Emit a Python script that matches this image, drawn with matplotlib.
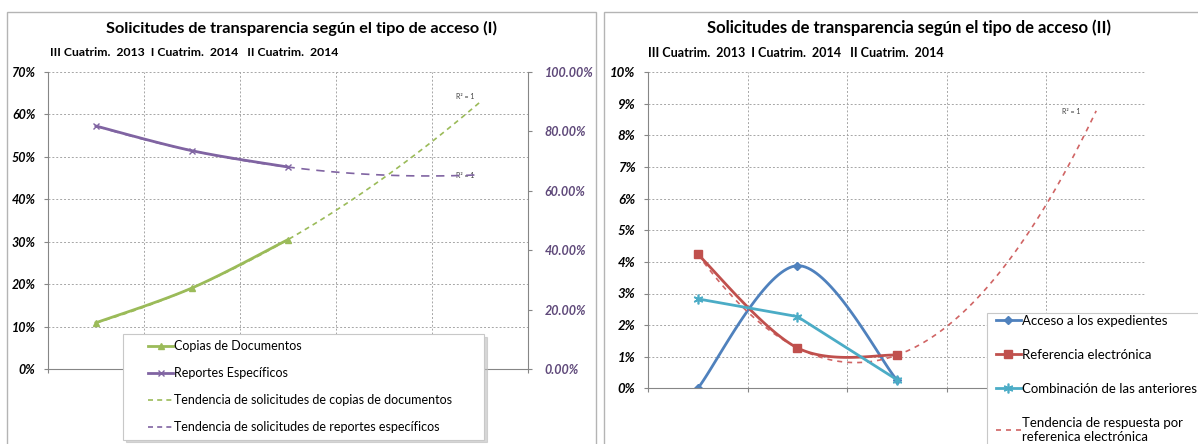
import numpy as np
import matplotlib.pyplot as plt
from matplotlib.patches import Rectangle
from matplotlib.lines import Line2D
from matplotlib.legend_handler import HandlerLine2D

plt.rcParams['font.family'] = ['Lato', 'DejaVu Sans']

W, H = 1198, 444

periodos = 'III Cuatrim.  2013  I Cuatrim.  2014   II Cuatrim.  2014'
x = [1, 2, 3]
copias = [10.9, 19.1, 30.5]
reportes = [81.8, 73.5, 68.0]          # eje secundario
expedientes = [0.0, 3.88, 0.26]
referencia = [4.24, 1.28, 1.05]
combinacion = [2.83, 2.27, 0.27]

verde, morado = '#9bbb59', '#8064a2'
azul, rojo, celeste = '#4f81bd', '#c0504d', '#4bacc6'
gris = '#868686'
grid_c = '#a6a6a6'


def fbox(x0, y0, x1, y1):
    return [x0 / W, 1 - y1 / H, (x1 - x0) / W, (y1 - y0) / H]


def suave(xs, ys, n=40):
    # linea suavizada tipo Excel (bezier)
    p = np.column_stack([xs, ys]).astype(float)
    out = []
    for i in range(len(p) - 1):
        p0, p1 = p[max(i - 1, 0)], p[i]
        p2, p3 = p[i + 1], p[min(i + 2, len(p) - 1)]
        c1 = p1 + (p2 - p0) / 6
        c2 = p2 - (p3 - p1) / 6
        t = np.linspace(0, 1, n)[:, None]
        seg = (1 - t) ** 3 * p1 + 3 * (1 - t) ** 2 * t * c1 + 3 * (1 - t) * t ** 2 * c2 + t ** 3 * p2
        out.append(seg if i == 0 else seg[1:])
    s = np.vstack(out)
    return s[:, 0], s[:, 1]


def tendencia(ys):
    c = np.polyfit(x, ys, 2)
    xt = np.linspace(1, 5, 100)
    return xt, np.polyval(c, xt)


def base(ax, ymax, step, fs):
    ax.set_xlim(0.5, 5.5)
    ax.set_ylim(0, ymax)
    ax.set_xticks(np.arange(0.5, 5.6, 1))
    ax.set_xticklabels([])
    ax.set_yticks(np.arange(0, ymax + 0.01, step))
    ax.set_yticklabels([f'{int(v)}%' for v in np.arange(0, ymax + 0.01, step)],
                       fontsize=fs, fontweight='bold', fontstyle='italic')
    ax.grid(True, ls=(0, (2, 2)), color=grid_c, lw=0.7)
    ax.set_axisbelow(True)
    for s in ['top', 'right']:
        ax.spines[s].set_visible(False)
    for s in ['left', 'bottom']:
        ax.spines[s].set_color(gris)
    ax.tick_params(length=3, color=gris, pad=5)
    ax.tick_params(axis='y', pad=6)


fig = plt.figure(figsize=(W / 100, H / 100), dpi=100)

for x0, x1 in [(7, 596), (604, 1230)]:
    fig.patches.append(Rectangle((x0 / W, -0.1), (x1 - x0) / W, 1 - 12 / H + 0.1,
                                 transform=fig.transFigure, fill=False,
                                 edgecolor='#b4b4b4', lw=1))

# ---- grafico I
axL = fig.add_axes(fbox(48, 72, 528, 369))
base(axL, 70, 10, 9)
axL2 = axL.twinx()
axL2.set_ylim(0, 100)
axL2.set_yticks(np.arange(0, 101, 20))
axL2.set_yticklabels([f'{v:.2f}%' for v in np.arange(0, 101, 20)],
                     fontsize=9, fontweight='bold', fontstyle='italic', color='#5f497a')
for s in ['top', 'left', 'bottom']:
    axL2.spines[s].set_visible(False)
axL2.spines['right'].set_color(gris)
axL2.tick_params(length=3, color=gris, pad=9)

xt, yt = tendencia(copias)
axL.plot(xt, yt, color=verde, lw=1.2, dashes=(3, 2.5))
xs, ys = suave(x, copias)
axL.plot(xs, ys, color=verde, lw=2)
axL.plot(x, copias, ls='none', color=verde, marker='^', ms=5)

xt, yt = tendencia(reportes)
axL2.plot(xt, yt, color=morado, lw=1.2, dashes=(5, 4))
xs, ys = suave(x, reportes)
axL2.plot(xs, ys, color=morado, lw=2)
axL2.plot(x, reportes, ls='none', color=morado, marker='x', ms=5, mew=1)

axL.text(4.85, 63.3, 'R² = 1', fontsize=5, ha='center', va='bottom', color='#404040')
axL.text(4.85, 45.6, 'R² = 1', fontsize=5, ha='center', va='center', color='#404040')

fig.text(302 / W, 1 - 28 / H, 'Solicitudes de transparencia según el tipo de acceso (I)',
         ha='center', va='center', fontsize=11.7, fontweight='bold')
fig.text(50 / W, 1 - 53 / H, periodos, ha='left', va='center', fontsize=8.8, fontweight='bold')

hL = [Line2D([], [], color=verde, lw=2, marker='^', ms=5),
      Line2D([], [], color=morado, lw=2, marker='x', ms=5, mew=1),
      Line2D([], [], color=verde, lw=1.2, dashes=(3, 2.5)),
      Line2D([], [], color=morado, lw=1.2, dashes=(3, 2.5))]
lgL = fig.legend(hL,
                 ['Copias de Documentos', 'Reportes Específicos',
                  'Tendencia de solicitudes de copias de documentos',
                  'Tendencia de solicitudes de reportes específicos'],
                 loc='upper left', bbox_to_anchor=fbox(123, 334, 484, 334)[:2] + [361 / W, 0],
                 mode='expand', fontsize=9, handlelength=3.5, handletextpad=0.1,
                 numpoints=1, handler_map={Line2D: HandlerLine2D(xpad=1.5)},
                 labelspacing=1.2, borderpad=0.5, borderaxespad=0, fancybox=False,
                 edgecolor='#c8c8c8', framealpha=1,
                 shadow={'color': '#bdbdbd', 'alpha': 0.6})
lgL.get_frame().set_linewidth(0.8)

# ---- grafico II
axR = fig.add_axes(fbox(648, 72.3, 1146, 388.3))
base(axR, 10, 1, 9.5)

xs, ys = suave(x, expedientes)
axR.plot(xs, ys, color=azul, lw=2)
axR.plot(x, expedientes, ls='none', color=azul, marker='D', ms=4)

xt, yt = tendencia(referencia)
axR.plot(xt, yt, color='#d06464', lw=1.2, dashes=(3, 3))
xs, ys = suave(x, referencia)
axR.plot(xs, ys, color=rojo, lw=2)
axR.plot(x, referencia, ls='none', color=rojo, marker='s', ms=6)

axR.plot(x, combinacion, color=celeste, lw=2, marker=(6, 2, 0), ms=7, mew=1.2)

axR.text(4.75, 8.75, 'R² = 1', fontsize=5, ha='center', va='center', color='#404040')

fig.text(909 / W, 1 - 28 / H, 'Solicitudes de transparencia según el tipo de acceso (II)',
         ha='center', va='center', fontsize=12, fontweight='bold')
fig.text(648 / W, 1 - 53 / H, periodos, ha='left', va='center', fontsize=9, fontweight='bold')

hR = [Line2D([], [], color=azul, lw=2, marker='D', ms=4),
      Line2D([], [], color=rojo, lw=2, marker='s', ms=6),
      Line2D([], [], color=celeste, lw=2, marker=(6, 2, 0), ms=7, mew=1.2),
      Line2D([], [], color='#d06464', lw=1.2, dashes=(3, 3))]
lgR = fig.legend(hR,
                 ['Acceso a los expedientes', 'Referencia electrónica',
                  'Combinación de las anteriores',
                  'Tendencia de respuesta por\nreferenica electrónica'],
                 loc='upper left', bbox_to_anchor=fbox(987, 313, 1230, 313)[:2] + [243 / W, 0],
                 mode='expand', fontsize=9.5, handlelength=2.45, handletextpad=0.05,
                 numpoints=1, handler_map={Line2D: HandlerLine2D(xpad=0.56)},
                 labelspacing=1.68, borderpad=0.12, borderaxespad=0, fancybox=False,
                 edgecolor='#c8c8c8', framealpha=1)
lgR.get_frame().set_linewidth(0.8)

fig.savefig('out.png', dpi=100)
